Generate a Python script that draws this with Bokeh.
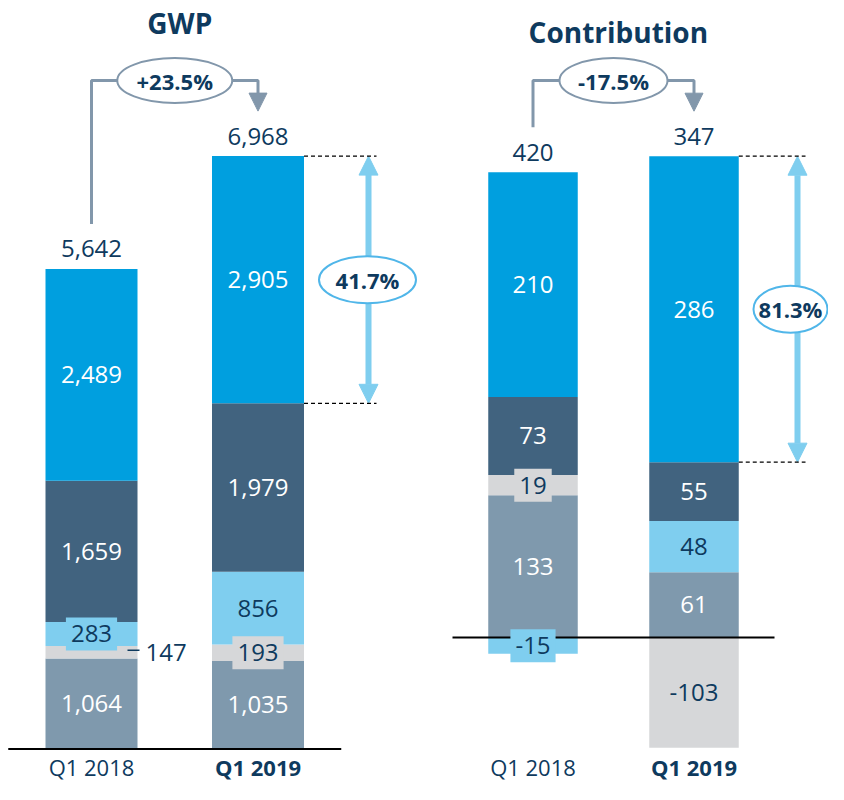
from bokeh.plotting import figure
from bokeh.layouts import row
from bokeh.models import ColumnDataSource, Arrow, NormalHead, Range1d
from bokeh.core.properties import value
from bokeh.embed import file_html
from bokeh.resources import INLINE

# ---------------- data ----------------
periods = ["Q1 2018", "Q1 2019"]
period_style = ["normal", "bold"]

# stacked components, bottom-up order
gwp_a = [1064, 1035]
gwp_b = [147, 193]
gwp_c = [283, 856]
gwp_d = [1659, 1979]
gwp_e = [2489, 2905]
gwp_total = [5642, 6968]
gwp_growth = "+23.5%"
gwp_share = "41.7%"

con_a = [133, 61]
con_b = [19, -103]
con_c = [-15, 48]
con_d = [73, 55]
con_e = [210, 286]
con_total = [420, 347]
con_growth = "-17.5%"
con_share = "81.3%"

# ---------------- style ----------------
NAVY = "#0E3A5E"
GRAY = "#8297AB"
ARROW_BLUE = "#7FCEEF"
RING_BLUE = "#50B6E9"
COLORS = ["#7F99AD", "#D6D7D9", "#7FCEEF", "#41637F", "#009FDF"]
LABEL_COLORS = ["white", NAVY, NAVY, "white", "white"]
FONT = value("Open Sans")
H = 784
VAL_SIZE = 24
# vertical layout mapping (reference px -> canvas px)
S = 0.986
A = -2.8


def text_px(s, size):
    w = 0.0
    for ch in s:
        if ch.isdigit():
            w += 0.572
        elif ch == "-":
            w += 0.32
        elif ch in ",.":
            w += 0.26
        else:
            w += 0.6
    return w * size


def make_panel(title, series, totals, growth, share, cfg):
    W = cfg["width"]
    unit = cfg["unit_px"]
    ppu = cfg["ppu"] * S
    base = A + S * cfg["baseline_ref"]
    x0 = cfg["x_start"]
    y_end = base / ppu
    y_start = -(H - base) / ppu
    p = figure(width=W, height=H, x_range=Range1d(x0, x0 + W / unit),
               y_range=Range1d(y_start, y_end), output_backend="svg",
               toolbar_location=None, min_border=0, title=None,
               x_axis_location=None, y_axis_location=None)
    p.grid.visible = False
    p.outline_line_color = None

    def Yc(cy):  # canvas px -> data
        return y_end - cy / ppu

    def Y(ry):  # reference px -> data
        return Yc(A + S * ry)

    def DX(px):
        return px / unit

    def DY(px):
        return px / ppu

    bw = DX(cfg["bar_px"])
    n = len(periods)

    quads = dict(left=[], right=[], bottom=[], top=[], color=[])
    plain = dict(x=[], y=[], text=[], color=[])
    boxed = dict(x=[], y=[], text=[], color=[], bg=[], w=[])
    outside = dict(x=[], y=[], text=[])
    dash = dict(x0=[], x1=[], y=[])
    tops = []
    for i in range(n):
        pos, neg = 0.0, 0.0
        for k, vals in enumerate(series):
            v = vals[i]
            if v >= 0:
                b, t = pos, pos + v
                pos = t
            else:
                b, t = neg + v, neg
                neg = b
            quads["left"].append(i - bw / 2)
            quads["right"].append(i + bw / 2)
            quads["bottom"].append(b)
            quads["top"].append(t)
            quads["color"].append(COLORS[k])
            c = (b + t) / 2
            hp = abs(v) * ppu
            txt = f"{v:,}"
            if hp >= 30:
                plain["x"].append(i); plain["y"].append(c)
                plain["text"].append(txt); plain["color"].append(LABEL_COLORS[k])
            elif hp >= 14:
                boxed["x"].append(i); boxed["y"].append(c)
                boxed["text"].append(txt); boxed["color"].append(LABEL_COLORS[k])
                boxed["bg"].append(COLORS[k]); boxed["w"].append(text_px(txt, VAL_SIZE) + 10)
            else:
                outside["x"].append(i + bw / 2 + DX(8)); outside["y"].append(c)
                outside["text"].append(txt)
                dash["x0"].append(i + bw / 2 - DX(10)); dash["x1"].append(i + bw / 2 + DX(2))
                dash["y"].append(c + DY(2))
        tops.append(pos)

    p.quad(left="left", right="right", bottom="bottom", top="top", fill_color="color",
           line_color=None, source=ColumnDataSource(quads))

    # zero line
    p.segment(x0=[-0.5], y0=[0], x1=[n - 0.5], y1=[0], line_color="black", line_width=2)

    common = dict(text_font=FONT, text_font_size=f"{VAL_SIZE}px", text_align="center",
                  text_baseline="middle")
    bsrc = ColumnDataSource(boxed)
    p.rect(x="x", y="y", width="w", height=33, width_units="screen", height_units="screen",
           fill_color="bg", line_color=None, source=bsrc)
    p.text(x="x", y="y", text="text", text_color="color", source=ColumnDataSource(plain), **common)
    p.text(x="x", y="y", text="text", text_color="color", source=bsrc, **common)
    if outside["x"]:
        p.text(x="x", y="y", text="text", text_color=NAVY, source=ColumnDataSource(outside),
               text_font=FONT, text_font_size=f"{VAL_SIZE}px", text_align="left",
               text_baseline="middle")
        p.segment(x0="x0", y0="y", x1="x1", y1="y", line_color=NAVY, line_width=1.5,
                  source=ColumnDataSource(dash))

    # totals
    tot_y = [t + DY(20) for t in tops]
    p.text(x=list(range(n)), y=tot_y, text=[f"{t:,}" for t in totals], text_color=NAVY, **common)

    # growth bracket
    yh = Y(84)
    p.line(x=[0, 0, 1, 1], y=[tot_y[0] + DY(25), yh, yh, Y(100)], line_color=GRAY, line_width=3)
    p.add_layout(Arrow(end=NormalHead(size=18, fill_color=GRAY, line_color=GRAY),
                       x_start=1, y_start=Y(98), x_end=1, y_end=tot_y[1] + DY(25),
                       line_color=GRAY, line_width=3, level="underlay"))
    p.ellipse(x=[0.5], y=[yh], width=cfg["growth_w"], height=45, width_units="screen",
              height_units="screen", fill_color="white", line_color=GRAY, line_width=2)
    p.text(x=[0.5], y=[yh], text=[growth], text_color=NAVY, text_font=FONT,
           text_font_size="22px", text_font_style="bold", text_align="center",
           text_baseline="middle")

    # share of last component in latest period
    xa = 1 + DX(cfg["share_dx"])
    yt = tops[1]
    yb = tops[1] - series[-1][1]
    p.segment(x0=[1 + bw / 2, 1 + bw / 2], y0=[yt, yb], x1=[xa + DX(8), xa + DX(8)], y1=[yt, yb],
              line_color="black", line_width=1.2, line_dash="4 3")
    p.add_layout(Arrow(start=NormalHead(size=19, fill_color=ARROW_BLUE, line_color=ARROW_BLUE),
                       end=NormalHead(size=19, fill_color=ARROW_BLUE, line_color=ARROW_BLUE),
                       x_start=xa, y_start=yb, x_end=xa, y_end=yt,
                       line_color=ARROW_BLUE, line_width=6, level="underlay"))
    xr = xa + DX(cfg["ring_dx"])
    p.ellipse(x=[xr], y=[(yt + yb) / 2], width=cfg["share_w"], height=47, width_units="screen",
              height_units="screen", fill_color="white", line_color=RING_BLUE, line_width=2)
    p.text(x=[xr], y=[(yt + yb) / 2], text=[share], text_color=NAVY, text_font=FONT,
           text_font_size="22px", text_font_style="bold", text_align="center",
           text_baseline="middle")

    # title
    p.text(x=[0.53], y=[Yc(cfg["title_cy"])], text=[title], text_color=NAVY, text_font=FONT,
           text_font_size="28px", text_font_style="bold", text_align="center",
           text_baseline="middle")

    # category labels
    p.text(x=list(range(n)), y=[Yc(766)] * n, text=periods, text_color=NAVY, text_font=FONT,
           text_font_size="22px", text_font_style=period_style, text_align="center",
           text_baseline="middle")
    return p


gwp_cfg = dict(width=420, unit_px=166.5, x_start=-91 / 166.5, ppu=0.0863,
               baseline_ref=762, bar_px=92, growth_w=115, share_w=97, share_dx=110.5,
               ring_dx=-1, title_cy=22)
con_cfg = dict(width=408, unit_px=161.0, x_start=-(532.5 - 420) / 161.0, ppu=1.085,
               baseline_ref=649, bar_px=89.5, growth_w=108, share_w=74, share_dx=103.5,
               ring_dx=-7, title_cy=31)

p1 = make_panel("GWP", [gwp_a, gwp_b, gwp_c, gwp_d, gwp_e], gwp_total, gwp_growth, gwp_share, gwp_cfg)
p2 = make_panel("Contribution", [con_a, con_b, con_c, con_d, con_e], con_total, con_growth, con_share, con_cfg)

layout = row(p1, p2)
open("out.html", "w").write(file_html(layout, INLINE))
